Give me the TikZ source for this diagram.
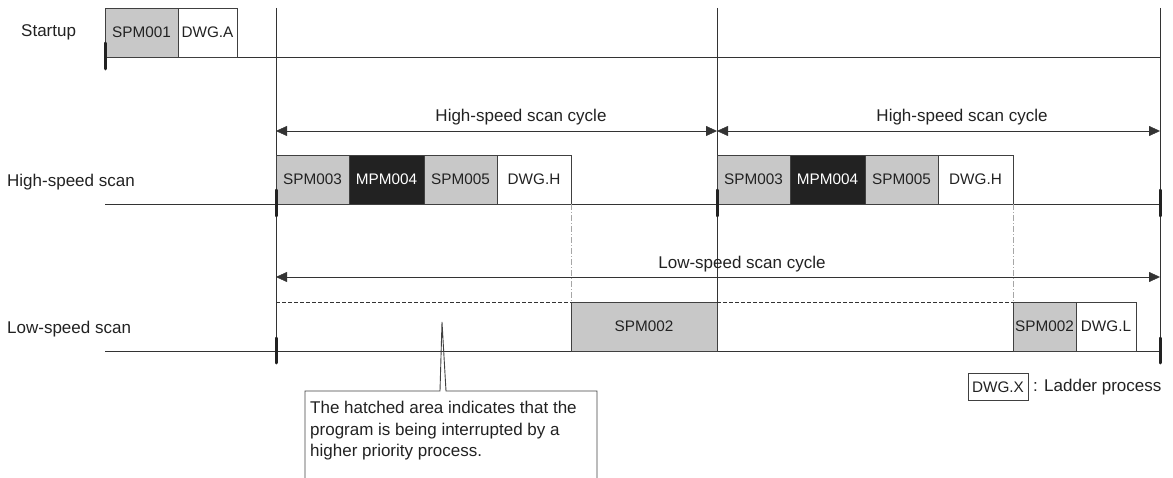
\documentclass[tikz,border=0pt]{standalone}
\usepackage{fontspec}
\setmainfont{Liberation Sans}
\usetikzlibrary{arrows.meta,positioning,calc}
\definecolor{spmgray}{HTML}{C8C8C8}
\definecolor{mpmblack}{HTML}{222222}
\definecolor{linecol}{HTML}{333333}
\definecolor{boxline}{HTML}{404040}
\definecolor{textcol}{HTML}{222222}

\begin{document}
\begin{tikzpicture}[x=1pt,y=-1pt,>={Triangle[length=11pt,width=10pt]},
    every node/.style={text=textcol},
    box/.style={draw=boxline, line width=0.9pt, minimum height=49pt, inner sep=0pt, outer sep=0pt, font=\fontsize{15.3}{18}\selectfont},
    spmbox/.style={box, fill=spmgray},
    mpmbox/.style={box, fill=mpmblack, text=white},
    dwgbox/.style={box, fill=white},
    rowlbl/.style={anchor=base west, inner sep=0pt, font=\fontsize{17}{20}\selectfont},
    cyclbl/.style={anchor=base, inner sep=0pt, font=\fontsize{17}{20}\selectfont},
    scantick/.style={draw=mpmblack, line width=3pt, line cap=round},
    rowline/.style={draw=linecol, line width=0.9pt}]
    \useasboundingbox (0,0) rectangle (1173,478);

    % Time marks
    \coordinate (ta) at (276,8);
    \coordinate (tb) at (717,8);
    \coordinate (tc) at (1160,8);
    \coordinate (ba) at (276,351);
    \coordinate (bb) at (717,351);
    \coordinate (bc) at (1160,351);

    % Row lines
    \coordinate (r0) at (105,57);
    \coordinate (r1) at (1160,57);
    \coordinate (h0) at (105,204);
    \coordinate (h1) at (1160,204);
    \coordinate (l0) at (105,351);
    \draw[rowline] (r0) -- (r1);
    \draw[rowline] (h0) -- (h1);
    \draw[rowline] (l0) -- (bc);
    \draw[rowline] (ta) -- (ba);
    \draw[rowline] (tb) -- (bb);
    \draw[rowline] (tc) -- (bc);

    % Row labels
    \node[rowlbl] (startup) at (21,37) {Startup};
    \node[rowlbl] (hsrow) at (7,187) {High-speed scan};
    \node[rowlbl] (lsrow) at (7,334) {Low-speed scan};

    % Cycles
    \coordinate (ha) at (276,131);
    \coordinate (hb) at (717,131);
    \coordinate (hc) at (1160,131);
    \coordinate (la) at (276,277);
    \coordinate (lc) at (1160,277);
    \draw[<->, linecol] (ha) -- (hb);
    \draw[<->, linecol] (hb) -- (hc);
    \draw[<->, linecol] (la) -- (lc);
    \node[cyclbl] (hcyc1) at (521,122) {High-speed scan cycle};
    \node[cyclbl] (hcyc2) at (962,122) {High-speed scan cycle};
    \node[cyclbl] (lcyc) at (742,269) {Low-speed scan cycle};

    % Startup
    \node[spmbox, minimum width=73pt, anchor=north west] (st1) at (105,8) {SPM001};
    \node[dwgbox, minimum width=59pt, right=0pt of st1] (st2) {DWG.A};

    % High-speed scan
    \node[spmbox, minimum width=73pt, anchor=north west] (h1a) at (276,155) {SPM003};
    \node[mpmbox, minimum width=75pt, right=0pt of h1a] (h1b) {MPM004};
    \node[spmbox, minimum width=73pt, right=0pt of h1b] (h1c) {SPM005};
    \node[dwgbox, minimum width=74pt, right=0pt of h1c] (h1d) {DWG.H};
    \node[spmbox, minimum width=73pt, anchor=north west] (h2a) at (717,155) {SPM003};
    \node[mpmbox, minimum width=75pt, right=0pt of h2a] (h2b) {MPM004};
    \node[spmbox, minimum width=73pt, right=0pt of h2b] (h2c) {SPM005};
    \node[dwgbox, minimum width=75pt, right=0pt of h2c] (h2d) {DWG.H};

    % Low-speed scan
    \node[spmbox, minimum width=146pt, anchor=north west] (l1) at (571,302) {SPM002};
    \node[spmbox, minimum width=63pt, anchor=north west] (l2a) at (1013,302) {SPM002};
    \node[dwgbox, minimum width=60pt, right=0pt of l2a] (l2b) {DWG.L};

    % Interrupted parts
    \coordinate (ia) at (276,302);
    \coordinate (ib) at (717,302);
    \draw[linecol, dash pattern=on 4pt off 2pt] (ia) -- (l1.north west);
    \draw[linecol, dash pattern=on 4pt off 2pt] (ib) -- (l2a.north west);
    \draw[gray!70, line width=0.9pt, dash pattern=on 6pt off 2pt on 1pt off 2pt] (h1d.south east) -- (l1.north west);
    \draw[gray!70, line width=0.9pt, dash pattern=on 6pt off 2pt on 1pt off 2pt] (h2d.south east) -- (l2a.north west);

    % Ticks
    \draw[scantick] (105,43) -- (105,69);
    \foreach \x in {276,717,1160} {
        \draw[scantick] (\x,190) -- (\x,216);
    }
    \draw[scantick] (276,338) -- (276,363);
    \draw[scantick] (1160,338) -- (1160,363);

    % Note
    \node[minimum width=292pt, minimum height=110pt, anchor=north west, inner sep=0pt, outer sep=0pt] (note) at (305,391) {};
    \node[anchor=north west, align=left, inner sep=0pt, font=\fontsize{17}{21.7}\selectfont] (notetxt) at (310,401) {The hatched area indicates that the\\program is being interrupted by a\\higher priority process.};
    \coordinate (hatch) at (442,322);
    \coordinate (nl) at (440,391);
    \coordinate (nr) at (446,391);
    \draw[boxline, line width=0.9pt] (note.south west) -- (note.north west) -- (nl) -- (hatch) -- (nr) -- (note.north east) -- (note.south east);

    % Legend
    \node[dwgbox, minimum width=60pt, minimum height=27pt] (legbox) at (998,387) {DWG.X};
    \node[rowlbl, anchor=west, right=5pt of legbox] (legtxt) {: Ladder process};
\end{tikzpicture}
\end{document}
